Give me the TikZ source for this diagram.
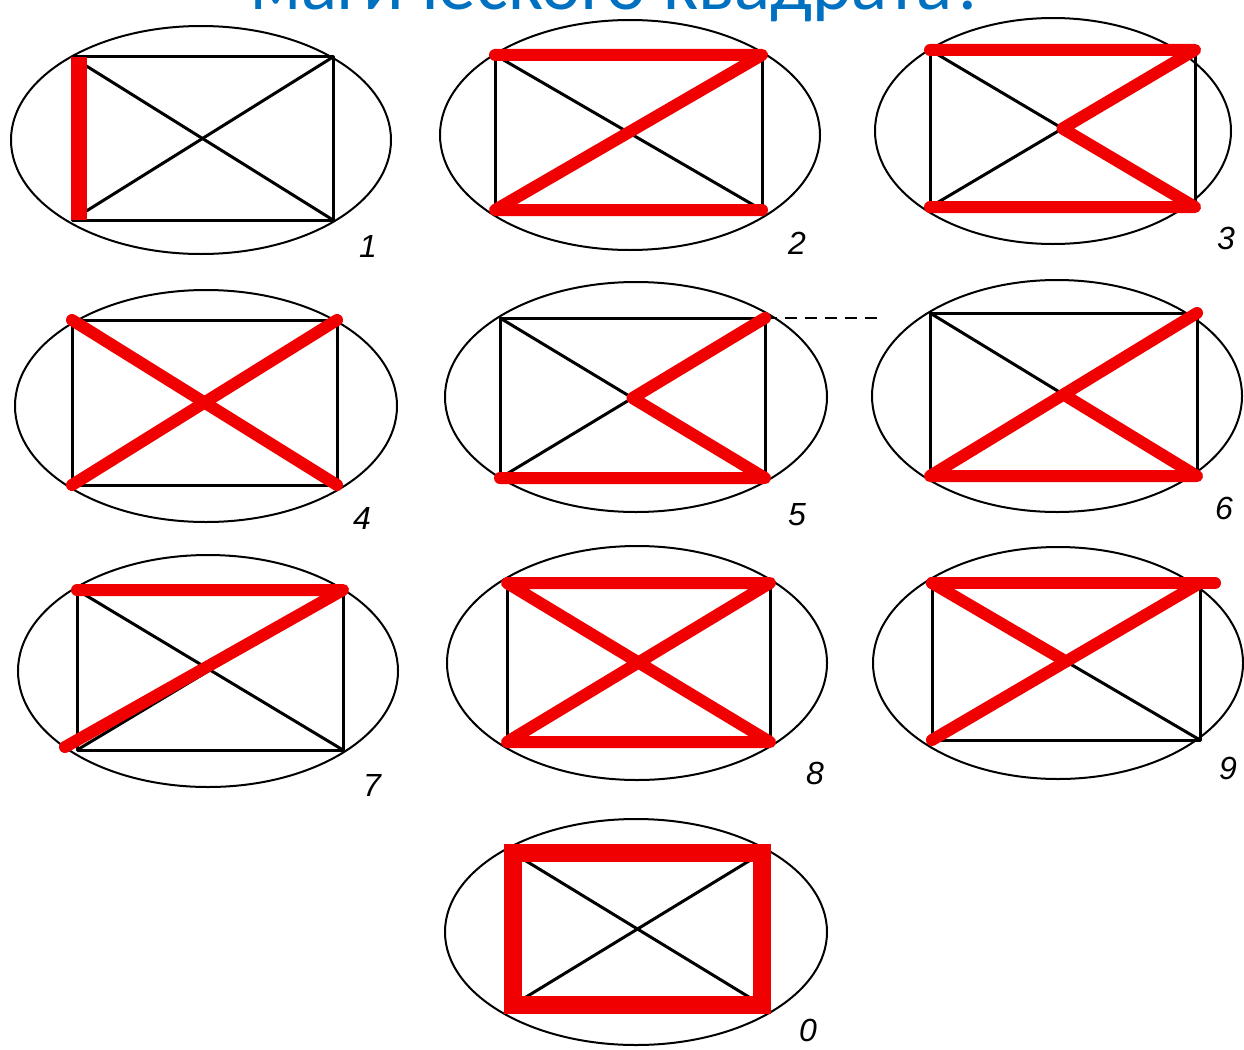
\documentclass[tikz,border=0pt]{standalone}
\usepackage{fontspec}
\usepackage{graphicx}
\setmainfont{Liberation Sans}
\newfontfamily\titlefont{Carlito}
\usetikzlibrary{calc}
\definecolor{titleblue}{RGB}{0,112,192}
\definecolor{redmark}{RGB}{240,0,0}
\newcommand\sqpanel[9]{% id, ex, ey, rx, ry, L, T, R, B
  \draw[oval] (#2,#3) ellipse [x radius=#4pt, y radius=#5pt];
  \coordinate (#1tl) at (#6,#7);
  \coordinate (#1tr) at (#8,#7);
  \coordinate (#1bl) at (#6,#9);
  \coordinate (#1br) at (#8,#9);
  \coordinate (#1c) at ($(#1tl)!0.5!(#1br)$);
  \draw[frame] (#1tl) -- (#1tr) -- (#1br) -- (#1bl) -- cycle;
  \draw[frame] (#1tl) -- (#1br);
  \draw[frame] (#1tr) -- (#1bl);
}
\begin{document}
\begin{tikzpicture}[x=1pt,y=-1pt,
  frame/.style={line width=3pt, black, line join=round},
  oval/.style={line width=2pt, black},
  redline/.style={line width=12pt, redmark, line cap=round, line join=round},
  digit/.style={font=\fontsize{32}{32}\selectfont\itshape, inner sep=0pt}]
\useasboundingbox[fill=white] (0,0) rectangle (1244,1049);

\begin{scope}
\clip (0,0) rectangle (1244,40);
\node[anchor=base west, inner sep=0pt, text=titleblue] (title) at (250,10)
  {\resizebox{737pt}{!}{\titlefont магического квадрата?}};
\end{scope}

\sqpanel{p1}{201}{140}{190}{114}{72}{57}{333}{220}
\sqpanel{p2}{630}{135}{190}{115}{495}{55}{762}{210}
\sqpanel{p3}{1053}{131}{178}{113}{930}{50}{1195}{207}
\sqpanel{p4}{206}{406}{191}{116}{72}{320}{337}{485}
\sqpanel{p5}{636}{397}{191}{115}{500}{318}{765}{478}
\sqpanel{p6}{1057}{396}{185}{116}{930}{313}{1197}{476}
\sqpanel{p7}{208}{671}{190}{116}{77}{590}{343}{750}
\sqpanel{p8}{637}{663}{190}{117}{507}{583}{770}{742}
\sqpanel{p9}{1058}{663}{185}{116}{932}{583}{1200}{740}
\sqpanel{p0}{636}{932}{191}{113}{513}{853}{762}{1005}

\coordinate (dashend) at (878,318);
\draw[line width=2pt, dash pattern=on 12pt off 8pt] (p5tr) -- (dashend);

% red strokes
\draw[redline, line width=16pt, line cap=butt] ([xshift=7pt]p1tl) -- ([xshift=7pt]p1bl);
\draw[redline] (p2tl) -- (p2tr) -- (p2bl) -- (p2br);
\draw[redline] (p3tl) -- (p3tr) -- (p3c) -- (p3br) -- (p3bl);
\draw[redline] (p4tl) -- (p4br);
\draw[redline] (p4tr) -- (p4bl);
\draw[redline] (p5tr) -- (p5c) -- (p5br) -- (p5bl);
\draw[redline] (p6tr) -- (p6bl) -- (p6br) -- (p6c);
\draw[redline] (p7tl) -- (p7tr) -- ([shift={(-12,-3)}]p7bl);
\draw[redline] (p8tl) -- (p8tr) -- (p8bl) -- (p8br) -- cycle;
\draw[redline] (p9tl) -- ([xshift=15pt]p9tr);
\draw[redline] (p9tl) -- (p9c);
\draw[redline] (p9tr) -- (p9bl);
\draw[redline, line width=18pt, line join=miter, line cap=butt] (p0tl) -- (p0tr) -- (p0br) -- (p0bl) -- cycle;

% labels
\node[digit] (n1) at (368,246) {1};
\node[digit] (n2) at (797,243) {2};
\node[digit] (n3) at (1226,238) {3};
\node[digit] (n4) at (362,518) {4};
\node[digit] (n5) at (797,515) {5};
\node[digit] (n6) at (1224,508) {6};
\node[digit] (n7) at (372,785) {7};
\node[digit] (n8) at (815,773) {8};
\node[digit] (n9) at (1228,768) {9};
\node[digit] (n0) at (808,1030) {0};
\end{tikzpicture}
\end{document}
